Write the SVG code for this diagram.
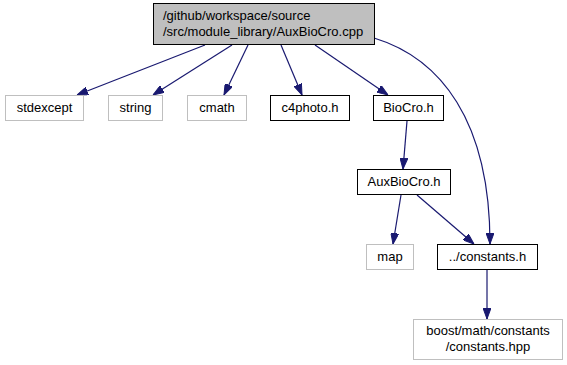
<svg xmlns="http://www.w3.org/2000/svg" width="567" height="365" viewBox="0 0 567 365">
  <style>
    text { font-family: "Liberation Sans", Arial, sans-serif; font-size: 13px; fill: #000; }
    .c { text-anchor: middle; }
    .ext rect { fill: #fff; stroke: #bfbfbf; stroke-width: 1; }
    .doc rect { fill: #fff; stroke: #000; stroke-width: 1; }
    .root rect { fill: #bfbfbf; stroke: #000; stroke-width: 1; }
    .edge { fill: none; stroke: #191970; stroke-width: 1.2; marker-end: url(#arrow); }
  </style>
  <defs>
    <marker id="arrow" viewBox="0 0 11 8" refX="11" refY="4" markerWidth="11" markerHeight="8" markerUnits="userSpaceOnUse" orient="auto">
      <path d="M0,0 L11,4 L0,8 z" fill="#191970" stroke="#191970"/>
    </marker>
  </defs>
  <rect width="567" height="365" fill="#fff"/>

  <g id="connectors">
    <path class="edge" d="M205,45 L77,95"/>
    <path class="edge" d="M232,45 L153,95"/>
    <path class="edge" d="M248,45 L224,95"/>
    <path class="edge" d="M281,45 L302,95"/>
    <path class="edge" d="M315,45 L388,95"/>
    <path class="edge" d="M374,38 C440,58 490,120 490,244"/>
    <path class="edge" d="M407,121 L403,169"/>
    <path class="edge" d="M401,195 L393,244"/>
    <path class="edge" d="M417,195 L474,244"/>
    <path class="edge" d="M487,270 L487,319"/>
  </g>

  <g id="node-root" class="root">
    <rect x="153.5" y="3.5" width="221" height="41"/>
    <text x="163" y="20">/github/workspace/source</text>
    <text x="163" y="36">/src/module_library/AuxBioCro.cpp</text>
  </g>
  <g id="node-stdexcept" class="ext">
    <rect x="5.5" y="95.5" width="78" height="25"/>
    <text class="c" x="44.5" y="112">stdexcept</text>
  </g>
  <g id="node-string" class="ext">
    <rect x="108.5" y="95.5" width="54" height="25"/>
    <text class="c" x="135.5" y="112">string</text>
  </g>
  <g id="node-cmath" class="ext">
    <rect x="187.5" y="95.5" width="59" height="25"/>
    <text class="c" x="217" y="112">cmath</text>
  </g>
  <g id="node-c4photo" class="doc">
    <rect x="270.5" y="95.5" width="79" height="25"/>
    <text class="c" x="310" y="112">c4photo.h</text>
  </g>
  <g id="node-biocro" class="doc">
    <rect x="373.5" y="95.5" width="70" height="25"/>
    <text class="c" x="408.5" y="112">BioCro.h</text>
  </g>
  <g id="node-auxbiocro" class="doc">
    <rect x="357.5" y="169.5" width="93" height="25"/>
    <text class="c" x="404" y="186">AuxBioCro.h</text>
  </g>
  <g id="node-map" class="ext">
    <rect x="366.5" y="244.5" width="47" height="25"/>
    <text class="c" x="390" y="261">map</text>
  </g>
  <g id="node-constants" class="doc">
    <rect x="437.5" y="244.5" width="100" height="25"/>
    <text class="c" x="487.5" y="261">../constants.h</text>
  </g>
  <g id="node-boost" class="ext">
    <rect x="413.5" y="319.5" width="149" height="40"/>
    <text class="c" x="488" y="335">boost/math/constants</text>
    <text class="c" x="488" y="351">/constants.hpp</text>
  </g>
</svg>
